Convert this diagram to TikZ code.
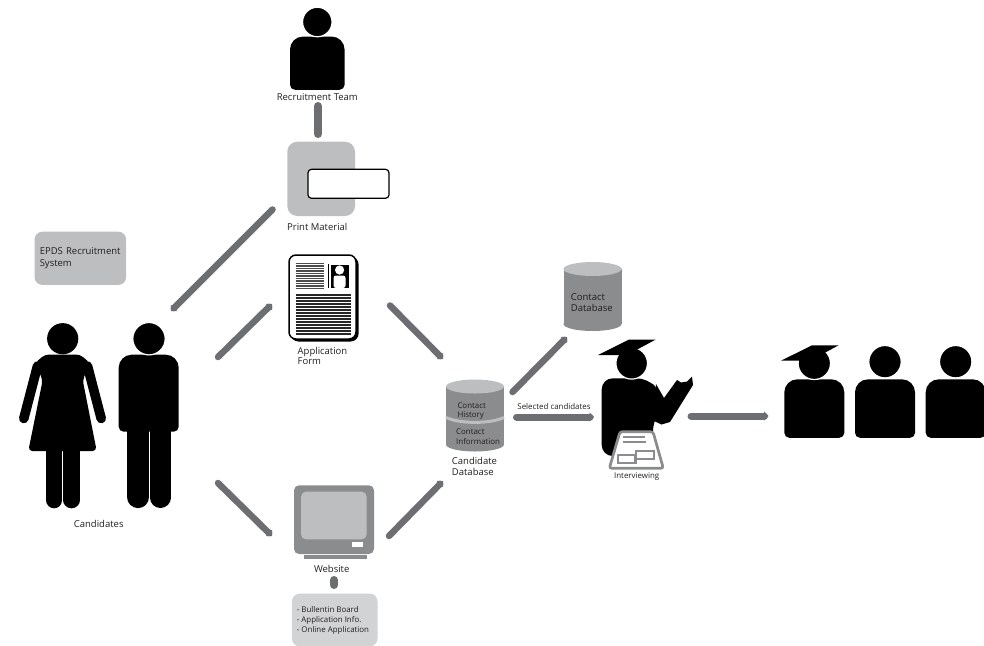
\documentclass[tikz,border=0pt]{standalone}
\usepackage{fontspec}
\setmainfont{Open Sans}
\usetikzlibrary{arrows.meta}
\definecolor{lnkgray}{HTML}{6D6E71}
\definecolor{dbgray}{HTML}{8A8C8E}
\definecolor{ltgray}{HTML}{BCBEC0}
\definecolor{pagray}{HTML}{D1D3D4}
\definecolor{txtcol}{HTML}{231F20}
\tikzset{
  pics/person/.style={code={
    \fill[rounded corners=13pt] (-30,45) -- (-30,16) -- (30,16) -- (30,45)
      [rounded corners=5pt] -- (30,74.5) -- (-30,74.5) -- cycle;
    \filldraw[draw=white, line width=1.2pt] (0,#1) circle (16.2);
  }},
  pics/person/.default=0,
  pics/hat/.style={code={
    \fill (-33,0) -- (-2,-15.4) -- (24.6,-15.4) -- (-4,0) -- cycle;
  }},
  pics/dbcyl/.style={code={
    \fill[dbgray] (-29,0) rectangle (29,#1);
    \fill[dbgray] (0,#1) ellipse [x radius=29, y radius=7];
    \fill[ltgray] (0,0) ellipse [x radius=29, y radius=7];
  }}
}
\begin{document}
\begin{tikzpicture}[x=1pt, y=-1pt,
  lbl/.style={text=txtcol, font=\fontsize{9.5}{10.8}\selectfont, inner sep=0pt, align=left},
  sml/.style={lbl, font=\fontsize{7.9}{9.5}\selectfont},
  lnk/.style={draw=lnkgray, line width=6.5pt, line cap=round},
  arr/.style={lnk, -{Triangle[length=4.4pt, width=9pt]}},
  brd/.style={draw=dbgray, line width=2.7pt, fill=white, rounded corners=2.5pt}]
  \useasboundingbox (0,0) rectangle (984,645);

  \pic at (317.3,22) [scale=.91] {person};
  \node[lbl] (team) at (317.3,97.3) {Recruitment Team};

  \fill[ltgray, rounded corners=10pt] (287.3,141.7) rectangle (355,216);
  \node[draw=black, fill=white, line width=1.2pt, rounded corners=3.5pt,
    minimum width=81pt, minimum height=29pt, inner sep=0pt] (print) at (348.5,183.8) {};
  \node[lbl] (printlbl) at (317.3,227.3) {Print Material};

  \node[lbl, anchor=west, fill=ltgray, rounded corners=8pt, minimum width=91.7pt,
    minimum height=53.3pt, text width=88pt, inner sep=0pt] (epds) at (34.3,258.3)
    {\hspace*{3.4pt}EPDS Recruitment\\[1.6pt]\hspace*{3.4pt}System};

  \fill[black, rounded corners=8pt] (290.5,256.5) rectangle (358.6,341.5);
  \filldraw[draw=black, fill=white, line width=1.5pt, rounded corners=7pt] (289,255) rectangle (356,339);
  \foreach \y in {263.5,266,...,288.5}
    \draw[line width=1.1pt, black!70] (295.7,\y) -- (324.3,\y);
  \draw[line width=.6pt] (328.3,264) -- (328.3,288);
  \fill (330.7,265) rectangle (349.3,288);
  \fill[white] (339.6,270) circle (4.6);
  \fill[white, rounded corners=2.5pt] (333.5,288) -- (333.5,275.5) -- (345.5,275.5) -- (345.5,288) -- cycle;
  \foreach \y in {295,298,...,334}
    \draw[line width=1.1pt, black!85] (295.7,\y) -- (351,\y);
  \node[lbl, anchor=west] (form) at (297.5,356) {Application\\Form};

  \fill[dbgray, rounded corners=5pt] (294,485.3) rectangle (374,554);
  \fill[ltgray, rounded corners=5pt] (301,491.7) rectangle (366.7,539.3);
  \fill[white] (351.7,542.3) rectangle (363.3,546.7);
  \fill[dbgray] (304,555) rectangle (367.3,559);
  \node[lbl] (web) at (331.7,569.3) {Website};

  \node[sml, anchor=north west, fill=pagray, rounded corners=8pt, minimum width=85.6pt,
    minimum height=53pt, text width=82pt, inner sep=0pt, align=left] (webbox) at (291.7,593.3) {};
  \node[sml, anchor=west] (webtxt) at (296.7,620.5)
    {- Bullentin Board\\[.8pt]- Application Info.\\[.8pt]- Online Application};

  \fill (62.7,338.7) circle (15.6);
  \fill[rounded corners=4pt] (45,354.5) -- (80,354.5) -- (90,363) -- (82.7,380)
    -- (96.7,451) -- (28.3,451) -- (42.7,380) -- (35,363) -- cycle;
  \draw[line width=9.6pt, line cap=round] (37.5,366) -- (23.8,418.5) (87.5,366) -- (101.2,418.5);
  \draw[line width=16.2pt, line cap=round] (54.2,451) -- (54.2,500.2) (71.5,451) -- (71.5,500.2);
  \fill[rounded corners=13pt] (118.7,400) -- (118.7,354.7) -- (178.7,354.7) -- (178.7,400)
    [rounded corners=5pt] -- (178.7,431.7) -- (118.7,431.7) -- cycle;
  \filldraw[draw=white, line width=1.2pt] (149,338.7) circle (16.2);
  \draw[line width=22.2pt, line cap=round] (138.1,425) -- (138.1,497);
  \draw[line width=20.8pt, line cap=round] (160.4,425) -- (160.4,497.6);
  \node[lbl] (cand) at (98.7,524) {Candidates};

  \pic at (475,386.5) {dbcyl=58};
  \draw[ltgray, line width=3pt] (446,417.5) .. controls (460,424) and (490,424) .. (504,417.5);
  \node[sml, anchor=west] (hist) at (457.3,411) {Contact\\History};
  \node[sml, anchor=west] (info) at (456,436.5) {Contact\\Information};
  \node[lbl, anchor=west] (dblbl) at (451.7,466.5) {Candidate\\Database};

  \pic at (592.5,269) {dbcyl=55};
  \node[lbl, anchor=west] (condb) at (570.7,302.8) {Contact\\Database};

  \fill[rounded corners=11pt] (601.7,456) -- (601.7,378.3) -- (648,378.3) -- (660,392) -- (664,405) -- (653,420) -- (653,456) -- cycle;
  \fill (656,384) -- (664,398) -- (677,380) -- (681,382.5) -- (687,381.5) -- (692,376.5)
    -- (693,385) -- (670,422) -- (661.5,424.5) -- (652,420) -- cycle;
  \filldraw[draw=white, line width=1.2pt] (631.7,363.3) circle (15.8);
  \pic at (631,355) {hat};
  \draw[brd] (620,431.7) -- (653,431.7) -- (663.3,468.3) -- (609.3,468.3) -- cycle;
  \draw[dbgray, line width=2.3pt] (623.3,436.7) -- (645,436.7) (623.3,442.3) -- (645.7,442.3)
    (618.3,455) rectangle (635.5,463.3) (635.7,451) rectangle (654,459);
  \node[sml] (intv) at (636.7,476.7) {Interviewing};
  \node[sml] (sel) at (554,407) {Selected candidates};

  \pic at (814.3,363.3) {person};
  \pic at (885,363.3) {person=-1.6};
  \pic at (955.7,363.3) {person=-1.6};
  \pic at (814,360.7) {hat};

  \coordinate (team-s) at (318,106);
  \coordinate (print-n) at (318,134);
  \coordinate (print-w) at (272.5,209.5);
  \coordinate (cand-ne) at (171,311);
  \coordinate (cand-e1) at (218,357);
  \coordinate (form-w) at (272,304);
  \coordinate (form-e) at (390,305.5);
  \coordinate (db-nw) at (443,359);
  \coordinate (cand-e2) at (218,483);
  \coordinate (web-w) at (272,536);
  \coordinate (web-e) at (389,536);
  \coordinate (db-sw) at (443,481);
  \coordinate (db-ne) at (512.5,392);
  \coordinate (condb-s) at (567,337);
  \coordinate (db-e) at (516.5,417);
  \coordinate (intv-w) at (594,417);
  \coordinate (intv-e) at (691,416);
  \coordinate (aud-w) at (768.5,416);
  \coordinate (web-s) at (334,580);
  \coordinate (webbox-n) at (334,585);

  \draw[lnk, line width=8pt] (team-s) -- (print-n);
  \draw[arr] (print-w) -- (cand-ne);
  \draw[arr] (cand-e1) -- (form-w);
  \draw[arr] (form-e) -- (db-nw);
  \draw[arr] (cand-e2) -- (web-w);
  \draw[arr] (web-e) -- (db-sw);
  \draw[arr] (db-ne) -- (condb-s);
  \draw[arr, line width=7pt] (db-e) -- (intv-w);
  \draw[arr, line width=7pt] (intv-e) -- (aud-w);
  \draw[lnk, line width=8pt] (web-s) -- (webbox-n);
\end{tikzpicture}
\end{document}
